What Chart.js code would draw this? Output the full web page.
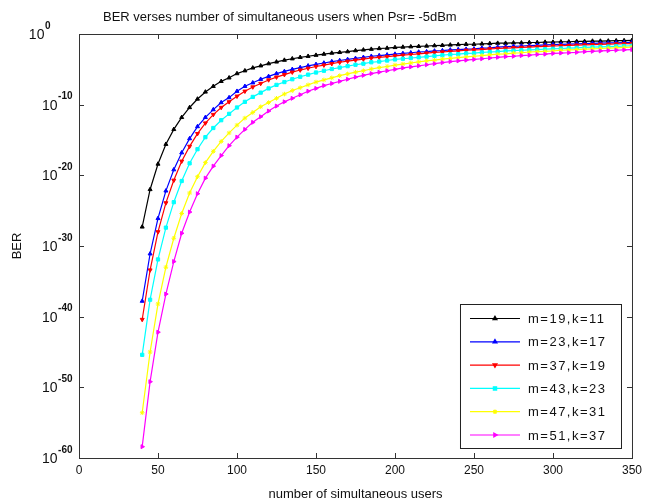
<!DOCTYPE html>
<html>
<head>
<meta charset="utf-8">
<script src="https://cdn.jsdelivr.net/npm/chart.js@4"></script>
<style>
  html, body { margin: 0; padding: 0; background: #fff; }
  #wrap { width: 647px; height: 504px; }
</style>
</head>
<body>
<div id="wrap"><canvas id="berChart" width="647" height="504"></canvas></div>
<script>
// number of simultaneous users (x positions of the markers)
const users = [40, 45, 50, 55, 60, 65, 70, 75, 80, 85, 90, 95, 100, 105, 110, 115, 120, 125, 130, 135,
  140, 145, 150, 155, 160, 165, 170, 175, 180, 185, 190, 195, 200, 205, 210, 215, 220, 225, 230, 235,
  240, 245, 250, 255, 260, 265, 270, 275, 280, 285, 290, 295, 300, 305, 310, 315, 320, 325, 330, 335,
  340, 345, 350];

// log10(BER), one value per user count above
const m19k11 = [-27.3, -22.0, -18.4, -15.6, -13.5, -11.8, -10.4, -9.2, -8.2, -7.4, -6.7, -6.2, -5.6, -5.2, -4.8, -4.5, -4.2, -3.95, -3.7, -3.5,
  -3.3, -3.15, -3.0, -2.85, -2.7, -2.6, -2.5, -2.35, -2.25, -2.15, -2.05, -2.0, -1.9, -1.85, -1.8, -1.75, -1.7, -1.65, -1.6, -1.55,
  -1.5, -1.45, -1.45, -1.4, -1.35, -1.3, -1.3, -1.25, -1.25, -1.2, -1.2, -1.15, -1.15, -1.1, -1.1, -1.05, -1.05, -1.0, -1.0, -0.98,
  -0.95, -0.93, -0.9];
const m23k17 = [-37.8, -31.1, -26.1, -22.2, -19.2, -16.8, -14.8, -13.1, -11.8, -10.7, -9.7, -9.0, -8.1, -7.4, -6.9, -6.4, -6.0, -5.6, -5.3, -5.0,
  -4.75, -4.5, -4.3, -4.1, -3.9, -3.75, -3.6, -3.45, -3.3, -3.15, -3.05, -2.95, -2.85, -2.75, -2.65, -2.55, -2.5, -2.4, -2.35, -2.25,
  -2.2, -2.15, -2.1, -2.0, -1.95, -1.85, -1.8, -1.75, -1.7, -1.65, -1.6, -1.55, -1.5, -1.47, -1.43, -1.4, -1.37, -1.33, -1.3, -1.27,
  -1.24, -1.21, -1.18];
const m37k19 = [-40.4, -33.4, -28.0, -23.9, -20.7, -18.0, -15.9, -14.1, -12.6, -11.4, -10.4, -9.6, -8.8, -8.1, -7.5, -7.0, -6.5, -6.1, -5.75, -5.4,
  -5.1, -4.85, -4.6, -4.4, -4.2, -4.0, -3.85, -3.7, -3.55, -3.4, -3.3, -3.2, -3.1, -3.0, -2.9, -2.8, -2.7, -2.6, -2.55, -2.45,
  -2.4, -2.3, -2.25, -2.2, -2.1, -2.05, -2.0, -1.95, -1.9, -1.85, -1.8, -1.75, -1.7, -1.66, -1.62, -1.58, -1.54, -1.5, -1.47, -1.44,
  -1.41, -1.38, -1.35];
const m43k23 = [-45.4, -37.6, -31.9, -27.4, -23.8, -20.8, -18.3, -16.3, -14.6, -13.3, -12.2, -11.3, -10.4, -9.6, -8.9, -8.3, -7.7, -7.2, -6.8, -6.4,
  -6.05, -5.75, -5.45, -5.2, -4.95, -4.75, -4.55, -4.35, -4.2, -4.0, -3.9, -3.75, -3.6, -3.5, -3.4, -3.3, -3.2, -3.1, -3.0, -2.9,
  -2.85, -2.75, -2.7, -2.6, -2.55, -2.5, -2.4, -2.35, -2.3, -2.25, -2.2, -2.15, -2.1, -2.05, -2.0, -1.95, -1.9, -1.86, -1.82, -1.78,
  -1.74, -1.7, -1.66];
const m47k31 = [-53.6, -45.0, -38.2, -33.0, -28.9, -25.4, -22.5, -20.2, -18.2, -16.6, -15.2, -14.0, -12.9, -11.9, -11.1, -10.3, -9.7, -9.1, -8.5, -8.0,
  -7.6, -7.2, -6.8, -6.5, -6.2, -5.9, -5.65, -5.4, -5.2, -4.95, -4.75, -4.6, -4.4, -4.25, -4.1, -3.95, -3.8, -3.7, -3.55, -3.45,
  -3.35, -3.25, -3.15, -3.05, -2.95, -2.85, -2.8, -2.7, -2.65, -2.55, -2.5, -2.45, -2.4, -2.3, -2.25, -2.2, -2.15, -2.1, -2.05, -2.0,
  -1.95, -1.9, -1.85];
const m51k37 = [-58.4, -49.2, -42.2, -36.8, -32.2, -28.2, -25.2, -22.6, -20.4, -18.7, -17.2, -15.8, -14.6, -13.5, -12.5, -11.7, -10.9, -10.2, -9.6, -9.1,
  -8.6, -8.1, -7.7, -7.3, -7.0, -6.7, -6.4, -6.1, -5.85, -5.6, -5.4, -5.2, -5.0, -4.8, -4.65, -4.5, -4.35, -4.2, -4.05, -3.9,
  -3.8, -3.7, -3.6, -3.5, -3.4, -3.3, -3.2, -3.15, -3.05, -3.0, -2.9, -2.85, -2.75, -2.7, -2.65, -2.6, -2.5, -2.45, -2.4, -2.35,
  -2.3, -2.25, -2.2];

const seriesLabels = ["m=19,k=11", "m=23,k=17", "m=37,k=19", "m=43,k=23", "m=47,k=31", "m=51,k=37"];
const xTicks = [0, 50, 100, 150, 200, 250, 300, 350];
const yTickExps = [0, -10, -20, -30, -40, -50, -60];
const titleText = "BER verses number of simultaneous users when Psr= -5dBm";

const FONT = "'Liberation Sans', Arial, sans-serif";

const styles = [
  { color: "#000000", point: "triangle", rot: 0 },
  { color: "#0000ff", point: "triangle", rot: 0 },
  { color: "#ff0000", point: "triangle", rot: 180 },
  { color: "#00ffff", point: "rect", rot: 0 },
  { color: "#ffff00", point: "star", rot: 0 },
  { color: "#ff00ff", point: "triangle", rot: 90 },
];

const logSeries = [m19k11, m23k17, m37k19, m43k23, m47k31, m51k37];

const datasets = logSeries.map((vals, i) => ({
  label: seriesLabels[i],
  data: users.map((u, j) => ({ x: u, y: Math.pow(10, vals[j]) })),
  borderColor: styles[i].color,
  backgroundColor: styles[i].color,
  borderWidth: 1.2,
  pointStyle: styles[i].point,
  pointRotation: styles[i].rot,
  pointRadius: 2.3,
  pointBorderWidth: 1,
  tension: 0,
  fill: false,
  order: logSeries.length - i,
}));

// MATLAB-like frame, inward ticks, 10^n labels, title and the legend box
const framePlugin = {
  id: "frame",
  afterDraw(chart) {
    const { ctx, chartArea: a, scales } = chart;
    ctx.save();
    ctx.strokeStyle = "#333";
    ctx.lineWidth = 1;
    ctx.strokeRect(a.left + 0.5, a.top + 0.5, a.right - a.left, a.bottom - a.top);

    const t = 5;
    ctx.beginPath();
    xTicks.forEach((v) => {
      const x = Math.round(scales.x.getPixelForValue(v)) + 0.5;
      ctx.moveTo(x, a.bottom); ctx.lineTo(x, a.bottom - t);
      ctx.moveTo(x, a.top); ctx.lineTo(x, a.top + t);
    });
    yTickExps.forEach((e) => {
      const y = Math.round(scales.y.getPixelForValue(Math.pow(10, e))) + 0.5;
      ctx.moveTo(a.left, y); ctx.lineTo(a.left + t, y);
      ctx.moveTo(a.right, y); ctx.lineTo(a.right - t, y);
    });
    ctx.stroke();

    // y tick labels as 10 with a raised exponent
    ctx.fillStyle = "#111";
    ctx.textBaseline = "middle";
    ctx.textAlign = "left";
    yTickExps.forEach((e) => {
      const y = scales.y.getPixelForValue(Math.pow(10, e));
      const exp = String(e);
      ctx.font = "bold 10px " + FONT;
      const ew = ctx.measureText(exp).width;
      ctx.font = "14px " + FONT;
      const bw = ctx.measureText("10").width;
      const right = e === 0 ? a.left - 29 : a.left - 7;
      const bx = right - ew - bw;
      ctx.fillText("10", bx, y + 1);
      ctx.font = "bold 10px " + FONT;
      ctx.fillText(exp, bx + bw + 0.5, y - 8);
    });

    // title
    ctx.font = "13px " + FONT;
    ctx.textAlign = "left";
    ctx.fillText(titleText, 103, 17);

    // legend
    const w = 161, h = 144;
    const lx = a.right - 11 - w, ly = a.bottom - 10 - h;
    ctx.fillStyle = "#fff";
    ctx.fillRect(lx, ly, w, h);
    ctx.strokeStyle = "#222";
    ctx.strokeRect(lx + 0.5, ly + 0.5, w, h);
    ctx.font = "13px " + FONT;
    ctx.letterSpacing = "1.5px";
    chart.data.datasets.forEach((ds, i) => {
      const y = ly + 14.5 + i * 23.3;
      ctx.strokeStyle = ds.borderColor;
      ctx.lineWidth = 1.2;
      ctx.beginPath();
      ctx.moveTo(lx + 10, y); ctx.lineTo(lx + 60, y);
      ctx.stroke();
      ctx.fillStyle = ds.borderColor;
      Chart.helpers.drawPoint(ctx, { pointStyle: ds.pointStyle, rotation: ds.pointRotation, radius: 2.3, borderWidth: 1 }, lx + 35, y);
      ctx.fillStyle = "#111";
      ctx.fillText(ds.label, lx + 68, y + 1);
    });
    ctx.restore();
  },
};

new Chart(document.getElementById("berChart"), {
  type: "line",
  data: { datasets },
  plugins: [framePlugin],
  options: {
    responsive: false,
    animation: false,
    layout: { padding: { left: 0, right: 12, top: 34, bottom: 0 } },
    plugins: {
      legend: { display: false },
      tooltip: { enabled: false },
      title: { display: false },
    },
    scales: {
      x: {
        type: "linear",
        min: 0,
        max: 350,
        afterBuildTicks: (s) => { s.ticks = xTicks.map((v) => ({ value: v })); },
        afterFit: (s) => { s.height = 46; },
        grid: { display: false, drawTicks: false },
        border: { display: false },
        ticks: { color: "#111", padding: 5, maxRotation: 0, font: { family: FONT, size: 12 } },
        title: {
          display: true,
          text: "number of simultaneous users",
          color: "#111",
          font: { family: FONT, size: 13 },
          padding: { top: 0, bottom: 2 },
        },
      },
      y: {
        type: "logarithmic",
        min: 1e-60,
        max: 1,
        afterBuildTicks: (s) => { s.ticks = yTickExps.map((e) => ({ value: Math.pow(10, e) })); },
        afterFit: (s) => { s.width = 79; },
        grid: { display: false, drawTicks: false },
        border: { display: false },
        ticks: { display: false },
        title: {
          display: true,
          text: "BER",
          color: "#111",
          font: { family: FONT, size: 13 },
          padding: { top: 10, bottom: 0 },
        },
      },
    },
  },
});
</script>
</body>
</html>
